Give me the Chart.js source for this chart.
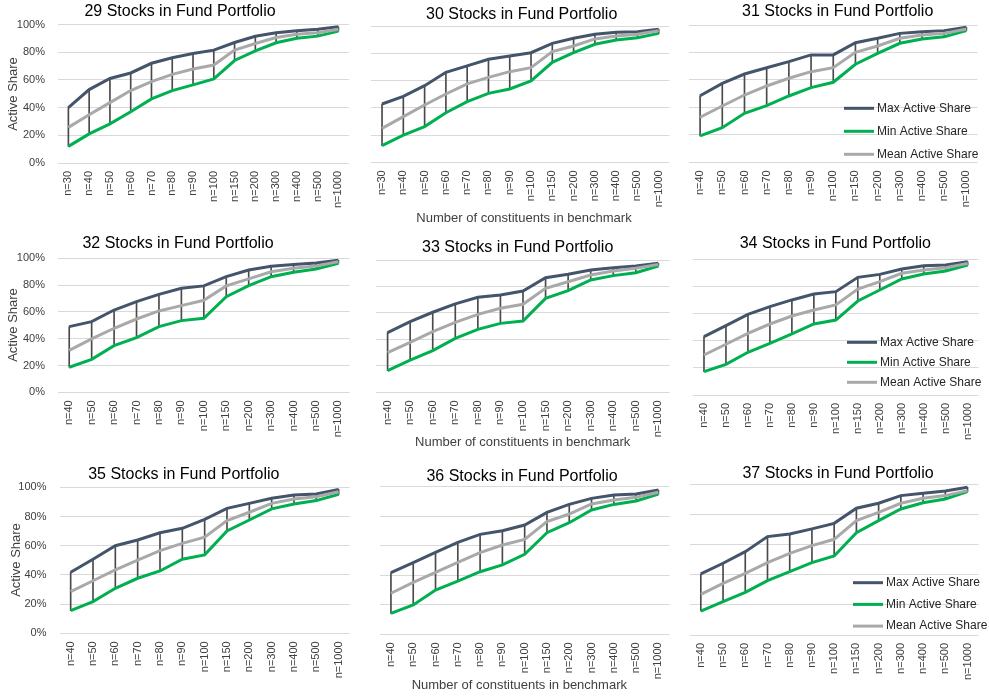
<!DOCTYPE html>
<html>
<head>
    <title>Active Share by Fund Portfolio Size</title>
    <script src="https://cdn.jsdelivr.net/npm/chart.js"></script>
    <style>
        body { margin: 0; background: #fff; }
        #wrap { position: relative; width: 989px; height: 696px; overflow: hidden; }
        canvas { position: absolute; }
    </style>
</head>
<body>
    <div id="wrap"></div>

    <script>
        // categories
        const catsA = ['n=30', 'n=40', 'n=50', 'n=60', 'n=70', 'n=80', 'n=90', 'n=100', 'n=150', 'n=200', 'n=300', 'n=400', 'n=500', 'n=1000'];
        const catsB = ['n=40', 'n=50', 'n=60', 'n=70', 'n=80', 'n=90', 'n=100', 'n=150', 'n=200', 'n=300', 'n=400', 'n=500', 'n=1000'];
        const yTicks = [0, 20, 40, 60, 80, 100];
        const seriesNames = ['Max Active Share', 'Min Active Share', 'Mean Active Share'];

        // values in %
        const max29  = [40, 53, 61, 65, 72, 76, 79, 81.5, 87, 91.5, 94, 95.5, 96.5, 98.3];
        const min29  = [12, 21, 28.3, 37, 46.3, 52.3, 56.4, 60.7, 74, 81, 86.8, 90, 91.6, 95.2];
        const mean29 = [25.7, 34.8, 43.6, 52.3, 58.8, 64, 67.9, 70.7, 81.5, 86.3, 90.6, 93, 94, 96.6];

        const max30  = [42.8, 48.4, 56.2, 66, 70.7, 75.6, 78, 80.4, 87.3, 91, 94, 95.4, 95.8, 97.6];
        const min30  = [12.2, 20, 26.2, 36.4, 44.5, 50.6, 53.8, 59.7, 73.3, 80.4, 86.6, 89.7, 91.4, 94.6];
        const mean30 = [24.9, 33.5, 42, 50.1, 57.5, 62.3, 66.5, 69.4, 81.2, 85.3, 90.5, 92.7, 93.9, 96.6];

        const max31  = [48.5, 57.5, 64.3, 68.9, 73.3, 78.2, 78.2, 87.1, 90.3, 93.9, 95.1, 95.9, 98.3];
        const min31  = [19.2, 25.2, 35.7, 41.3, 48.3, 54.4, 58.3, 71.4, 79.4, 86.7, 89.8, 91.5, 95.9];
        const mean31 = [32.8, 41, 49, 55.6, 61.2, 66, 68.9, 80.1, 84.7, 90.3, 92.7, 93.9, 97.1];

        const max32  = [49, 52.7, 61.4, 67.7, 73.1, 77.6, 79.4, 86.3, 91.3, 94, 95.3, 96.5, 98.5];
        const min32  = [18.7, 24.6, 34.8, 40.8, 49, 53.5, 55.2, 71.4, 79.6, 86.3, 89.6, 92, 96.3];
        const mean32 = [31.3, 39.8, 47.8, 54.7, 60.7, 64.7, 68.7, 79.4, 84.6, 90, 92.5, 94.3, 97.5];

        const max33  = [45.1, 53.4, 60.5, 66.8, 71.8, 73.6, 76.6, 86.6, 89.2, 92.4, 94.2, 95.5, 97.5];
        const min33  = [16.4, 24.4, 31.5, 40.8, 47.6, 52.1, 53.9, 71, 76.8, 84.9, 88.2, 90.4, 95.5];
        const mean33 = [30, 37.8, 45.8, 52.9, 58.9, 63.5, 66.5, 78.6, 83.6, 88.7, 91.7, 93.7, 96.7];

        const max34  = [42.9, 51, 59.3, 65, 69.9, 74.3, 76, 86.5, 88.7, 92.6, 95.1, 95.6, 98];
        const min34  = [17.2, 22.5, 31.4, 38, 44.9, 52.2, 55.1, 69.1, 77.2, 85.3, 89, 91.2, 95.6];
        const mean34 = [29.4, 37.3, 45.3, 52.2, 58.1, 62.5, 66.2, 77.9, 83.3, 89.5, 91.9, 93.6, 96.8];

        const max35  = [41.8, 50.7, 60, 63.9, 68.9, 71.9, 78.1, 85.6, 89, 92.5, 94.7, 95.4, 98.6];
        const min35  = [15.5, 21.7, 30.8, 37.7, 42.7, 50.7, 53.7, 70.1, 77.6, 85.2, 88.6, 90.9, 95.2];
        const mean35 = [28.5, 36, 43.4, 50.2, 56.6, 61.6, 65.8, 77.2, 82.9, 89, 92, 93.6, 97];

        const max36  = [41.8, 48.5, 55.5, 62.3, 67.7, 70.2, 74, 82.6, 88, 92.1, 94.4, 95, 97.7];
        const min36  = [14.2, 19.9, 30, 36.1, 42.4, 47, 54.2, 68.8, 75.6, 84.2, 88, 90.3, 95];
        const mean36 = [27.8, 35.2, 42, 48.8, 55.3, 60.5, 64.3, 76.3, 81.5, 88.3, 91, 92.8, 96.2];

        const max37  = [40.5, 47.6, 55.3, 65.3, 67, 70.4, 74.1, 84.1, 87.4, 92.5, 94, 95.6, 98];
        const min37  = [15.9, 22.1, 28.3, 36.1, 42, 48, 52.4, 67.9, 75.9, 83.6, 87.8, 90.3, 95.1];
        const mean37 = [27, 34.3, 40.9, 48, 54.2, 59.3, 63.5, 75.9, 81.4, 87.4, 90.7, 92.5, 95.8];

        const FONT = '"Liberation Sans", Arial, sans-serif';
        Chart.defaults.font.family = FONT;

        const colors = ['#44546A', '#00B050', '#A9A9A9'];
        const xTitleText = 'Number of constituents in benchmark';

        // layout of the nine panels (page pixels)
        const panels = [
            { title: '29 Stocks in Fund Portfolio', cats: catsA, data: [max29, min29, mean29],
              box: { x: 0, y: 0, w: 360, h: 225 }, plot: { l: 58, r: 349.6, t: 24.5, b: 163 },
              tp: { x: 180, y: 12 }, yTitle: { x: 13, y: 94 }, yLabels: true },
            { title: '30 Stocks in Fund Portfolio', cats: catsA, data: [max30, min30, mean30],
              box: { x: 360, y: 0, w: 320, h: 225 }, plot: { l: 371.4, r: 678, t: 26, b: 162.3 },
              tp: { x: 521.7, y: 15 }, xTitle: { x: 524, y: 218 } },
            { title: '31 Stocks in Fund Portfolio', cats: catsB, data: [max31, min31, mean31],
              box: { x: 680, y: 0, w: 309, h: 225 }, plot: { l: 689, r: 977.5, t: 25, b: 162.3 },
              tp: { x: 837.7, y: 11.5 }, legend: { x: 844, y: 108.3, gap: 23 } },
            { title: '32 Stocks in Fund Portfolio', cats: catsB, data: [max32, min32, mean32],
              box: { x: 0, y: 225, w: 360, h: 230 }, plot: { l: 58, r: 350.5, t: 258.3, b: 392.3 },
              tp: { x: 178, y: 244 }, yTitle: { x: 13, y: 325 }, yLabels: true },
            { title: '33 Stocks in Fund Portfolio', cats: catsB, data: [max33, min33, mean33],
              box: { x: 360, y: 225, w: 320, h: 230 }, plot: { l: 376.3, r: 669.8, t: 260, b: 392.3 },
              tp: { x: 517.7, y: 247.5 }, xTitle: { x: 522.7, y: 442.3 } },
            { title: '34 Stocks in Fund Portfolio', cats: catsB, data: [max34, min34, mean34],
              box: { x: 680, y: 225, w: 309, h: 230 }, plot: { l: 693, r: 986, t: 259, b: 395 },
              tp: { x: 835.3, y: 243.3 }, legend: { x: 847, y: 342.3, gap: 20 } },
            { title: '35 Stocks in Fund Portfolio', cats: catsB, data: [max35, min35, mean35],
              box: { x: 0, y: 455, w: 360, h: 241 }, plot: { l: 59.5, r: 356, t: 487.3, b: 633.3 },
              tp: { x: 183.8, y: 475 }, yTitle: { x: 16, y: 560 }, yLabels: true },
            { title: '36 Stocks in Fund Portfolio', cats: catsB, data: [max36, min36, mean36],
              box: { x: 360, y: 455, w: 320, h: 241 }, plot: { l: 379.8, r: 669.7, t: 486.7, b: 634.3 },
              tp: { x: 522, y: 476.7 }, xTitle: { x: 519.3, y: 685 } },
            { title: '37 Stocks in Fund Portfolio', cats: catsB, data: [max37, min37, mean37],
              box: { x: 680, y: 455, w: 309, h: 241 }, plot: { l: 689.7, r: 982, t: 484.3, b: 635 },
              tp: { x: 838, y: 473.3 }, legend: { x: 853, y: 582.7, gap: 21.7 } }
        ];

        // titles, axis titles and the in-plot legend
        const panelText = {
            id: 'panelText',
            afterDraw(chart) {
                const p = chart.canvas.$panel;
                if (!p) return;
                const ctx = chart.ctx;
                const ox = p.box.x, oy = p.box.y;
                ctx.save();
                ctx.textBaseline = 'middle';
                ctx.textAlign = 'center';
                ctx.fillStyle = '#000';
                ctx.font = '16px ' + FONT;
                ctx.fillText(p.title, p.tp.x - ox, p.tp.y - oy);

                ctx.fillStyle = '#404040';
                ctx.font = '13px ' + FONT;
                if (p.xTitle) {
                    ctx.fillText(xTitleText, p.xTitle.x - ox, p.xTitle.y - oy);
                }
                if (p.yTitle) {
                    ctx.save();
                    ctx.translate(p.yTitle.x - ox, p.yTitle.y - oy);
                    ctx.rotate(-Math.PI / 2);
                    ctx.fillText('Active Share', 0, 0);
                    ctx.restore();
                }
                if (p.legend) {
                    ctx.font = '12px ' + FONT;
                    ctx.textAlign = 'left';
                    ctx.fillStyle = '#262626';
                    seriesNames.forEach((name, i) => {
                        const y = p.legend.y + i * p.legend.gap - oy;
                        const x = p.legend.x - ox;
                        ctx.strokeStyle = colors[i];
                        ctx.lineWidth = 3;
                        ctx.beginPath();
                        ctx.moveTo(x, y);
                        ctx.lineTo(x + 30, y);
                        ctx.stroke();
                        ctx.fillText(name, x + 33, y);
                    });
                }
                ctx.restore();
            }
        };

        const wrap = document.getElementById('wrap');

        panels.forEach(p => {
            const cv = document.createElement('canvas');
            cv.width = p.box.w;
            cv.height = p.box.h;
            cv.style.left = p.box.x + 'px';
            cv.style.top = p.box.y + 'px';
            cv.style.width = p.box.w + 'px';
            cv.style.height = p.box.h + 'px';
            cv.$panel = p;
            wrap.appendChild(cv);

            const [mx, mn, av] = p.data;
            const lineSet = (i, vals, order) => ({
                type: 'line',
                label: seriesNames[i],
                data: vals,
                borderColor: colors[i],
                backgroundColor: colors[i],
                borderWidth: 3,
                pointRadius: 0,
                tension: 0,
                fill: false,
                order: order
            });

            new Chart(cv, {
                type: 'line',
                data: {
                    labels: p.cats,
                    datasets: [
                        lineSet(0, mx, 3),
                        lineSet(1, mn, 2),
                        lineSet(2, av, 1),
                        {
                            type: 'bar',
                            label: 'High-Low',
                            data: mn.map((v, i) => [v, mx[i]]),
                            backgroundColor: '#4a4a4a',
                            barThickness: 1,
                            grouped: false,
                            order: 5
                        }
                    ]
                },
                options: {
                    responsive: false,
                    animation: false,
                    devicePixelRatio: 1,
                    layout: {
                        padding: {
                            left: 0,
                            top: p.plot.t - p.box.y,
                            right: p.box.x + p.box.w - p.plot.r,
                            bottom: 0
                        }
                    },
                    plugins: {
                        legend: { display: false },
                        title: { display: false },
                        tooltip: { enabled: false }
                    },
                    scales: {
                        x: {
                            type: 'category',
                            offset: true,
                            grid: { display: false, drawTicks: false },
                            border: { display: false },
                            ticks: {
                                autoSkip: false,
                                maxRotation: 90,
                                minRotation: 90,
                                padding: 8,
                                color: '#404040',
                                font: { size: 11 }
                            },
                            afterFit: s => { s.height = p.box.y + p.box.h - p.plot.b; }
                        },
                        y: {
                            min: 0,
                            max: 100,
                            afterBuildTicks: s => { s.ticks = yTicks.map(v => ({ value: v })); },
                            grid: { color: '#D9D9D9', lineWidth: 1, drawTicks: false },
                            border: { display: false },
                            ticks: {
                                display: !!p.yLabels,
                                padding: 13,
                                color: '#404040',
                                font: { size: 11 },
                                callback: v => v + '%'
                            },
                            afterFit: s => { s.width = p.plot.l - p.box.x; }
                        }
                    }
                },
                plugins: [panelText]
            });
        });
    </script>
</body>
</html>
